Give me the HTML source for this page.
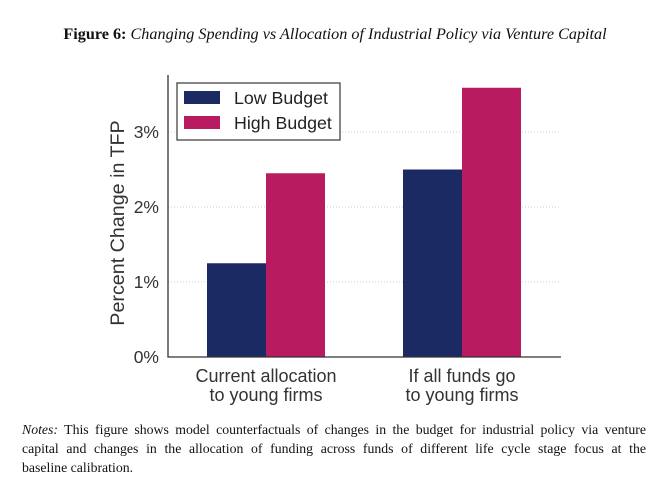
<!DOCTYPE html>
<html><head><meta charset="utf-8"><style>
body{margin:0;width:670px;height:495px;background:#fff;overflow:hidden;font-family:"Liberation Serif",serif;}
.title{position:absolute;top:25px;left:0;width:670px;text-align:center;font-size:16.2px;color:#111;}
.notes{position:absolute;left:22px;width:624px;font-size:13.8px;color:#111;line-height:19px;top:420px;}
.ln{text-align:justify;text-align-last:justify;height:19px;white-space:nowrap;}
.ln.last{text-align-last:left;}
svg{position:absolute;left:0;top:0;}
</style></head><body>
<div class="title"><b>Figure 6:</b> <i>Changing Spending vs Allocation of Industrial Policy via Venture Capital</i></div>
<svg width="670" height="495" id="chart"></svg>
<div class="notes">
<div class="ln"><i>Notes:</i> This figure shows model counterfactuals of changes in the budget for industrial policy via venture</div>
<div class="ln">capital and changes in the allocation of funding across funds of different life cycle stage focus at the</div>
<div class="ln last">baseline calibration.</div>
</div>
<script>
const categories=[["Current allocation","to young firms"],["If all funds go","to young firms"]];
const seriesNames=["Low Budget","High Budget"];
const lowBudget=[1.25,2.5];
const highBudget=[2.45,3.59];
const yTicks=[0,1,2,3];
const yTickLabels=["0%","1%","2%","3%"];
const colors=["#1b2a63","#b81b5f"];
const NS="http://www.w3.org/2000/svg";
const svg=document.getElementById('chart');
const x0=168,x1=561,y0=357,yTop=75,pxPer=75;
const y=v=>y0-v*pxPer;
const cx=i=>266+i*196;
const bw=59;
function mk(t,a){const e=document.createElementNS(NS,t);for(const k in a)e.setAttribute(k,a[k]);svg.appendChild(e);return e;}
const font='"Liberation Sans", Arial, sans-serif';
yTicks.forEach((v,i)=>{
  if(v>0){const g=mk('line',{x1:x0,x2:x1,y1:y(v),y2:y(v),stroke:'#ccc','stroke-width':1,'stroke-dasharray':'1,2'});
  
  }
  const t=mk('text',{x:159,y:y(v)+6,'text-anchor':'end','font-size':17.5,fill:'#333','font-family':font});
  t.textContent=yTickLabels[i];
  
  
});
[lowBudget,highBudget].forEach((s,si)=>{
  s.forEach((v,i)=>{
    const r=mk('rect',{x:cx(i)-bw+si*bw,y:y(v),width:bw,height:y0-y(v),fill:colors[si]});
    
    
  });
});
const ax=mk('path',{d:`M${x0} ${yTop}V${y0}H${x1}`,stroke:'#333','stroke-width':1.3,fill:'none'});


categories.forEach((c,i)=>{
  c.forEach((l,j)=>{
    const t=mk('text',{x:cx(i),y:382+j*19,'text-anchor':'middle','font-size':18,fill:'#333','font-family':font});
    t.textContent=l;
    
    
  });
});
const yt=mk('text',{x:0,y:0,transform:'translate(124,223) rotate(-90)','text-anchor':'middle','font-size':19.7,fill:'#333','font-family':font});
yt.textContent="Percent Change in TFP";


const lb=mk('rect',{x:177,y:83,width:163,height:57,fill:'#fff',stroke:'#444','stroke-width':1.3});


seriesNames.forEach((n,i)=>{
  const sw=mk('rect',{x:184,y:91+i*25,width:36,height:13,fill:colors[i]});
  
  
  const t=mk('text',{x:234,y:104+i*25,'font-size':17.8,fill:'#222','font-family':font});
  t.textContent=n;
  
  
});
</script>
</body></html>
